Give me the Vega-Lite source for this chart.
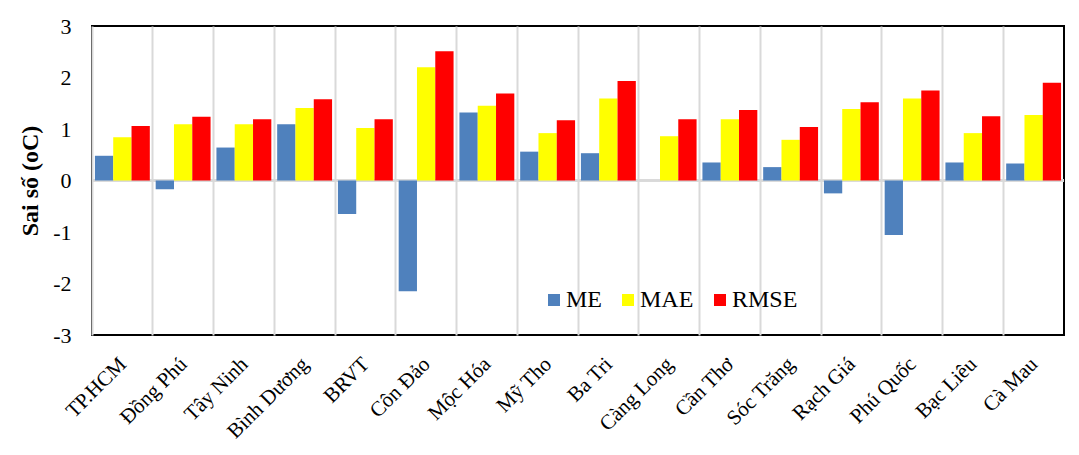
{
  "$schema": "https://vega.github.io/schema/vega-lite/v6.json",
  "autosize": {"type": "none"},
  "width": 972,
  "height": 309,
  "padding": {"left": 92, "top": 26, "right": 15, "bottom": 120},
  "background": "white",
  "config": {
    "font": "Liberation Serif",
    "view": {"stroke": "black", "strokeWidth": 2}
  },
  "data": {
    "values": [
      {"station": "TP.HCM", "metric": "ME", "value": 0.48},
      {"station": "TP.HCM", "metric": "MAE", "value": 0.84},
      {"station": "TP.HCM", "metric": "RMSE", "value": 1.06},
      {"station": "Đồng Phú", "metric": "ME", "value": -0.17},
      {"station": "Đồng Phú", "metric": "MAE", "value": 1.09},
      {"station": "Đồng Phú", "metric": "RMSE", "value": 1.24},
      {"station": "Tây Ninh", "metric": "ME", "value": 0.64},
      {"station": "Tây Ninh", "metric": "MAE", "value": 1.09},
      {"station": "Tây Ninh", "metric": "RMSE", "value": 1.19},
      {"station": "Bình Dương", "metric": "ME", "value": 1.09},
      {"station": "Bình Dương", "metric": "MAE", "value": 1.41},
      {"station": "Bình Dương", "metric": "RMSE", "value": 1.58},
      {"station": "BRVT", "metric": "ME", "value": -0.65},
      {"station": "BRVT", "metric": "MAE", "value": 1.02},
      {"station": "BRVT", "metric": "RMSE", "value": 1.19},
      {"station": "Côn Đảo", "metric": "ME", "value": -2.15},
      {"station": "Côn Đảo", "metric": "MAE", "value": 2.2},
      {"station": "Côn Đảo", "metric": "RMSE", "value": 2.51},
      {"station": "Mộc Hóa", "metric": "ME", "value": 1.32},
      {"station": "Mộc Hóa", "metric": "MAE", "value": 1.45},
      {"station": "Mộc Hóa", "metric": "RMSE", "value": 1.69},
      {"station": "Mỹ Tho", "metric": "ME", "value": 0.56},
      {"station": "Mỹ Tho", "metric": "MAE", "value": 0.92},
      {"station": "Mỹ Tho", "metric": "RMSE", "value": 1.17},
      {"station": "Ba Tri", "metric": "ME", "value": 0.53},
      {"station": "Ba Tri", "metric": "MAE", "value": 1.59},
      {"station": "Ba Tri", "metric": "RMSE", "value": 1.93},
      {"station": "Càng Long", "metric": "ME", "value": 0.0},
      {"station": "Càng Long", "metric": "MAE", "value": 0.86},
      {"station": "Càng Long", "metric": "RMSE", "value": 1.19},
      {"station": "Cần Thơ", "metric": "ME", "value": 0.35},
      {"station": "Cần Thơ", "metric": "MAE", "value": 1.19},
      {"station": "Cần Thơ", "metric": "RMSE", "value": 1.37},
      {"station": "Sóc Trăng", "metric": "ME", "value": 0.26},
      {"station": "Sóc Trăng", "metric": "MAE", "value": 0.79},
      {"station": "Sóc Trăng", "metric": "RMSE", "value": 1.04},
      {"station": "Rạch Giá", "metric": "ME", "value": -0.25},
      {"station": "Rạch Giá", "metric": "MAE", "value": 1.39},
      {"station": "Rạch Giá", "metric": "RMSE", "value": 1.52},
      {"station": "Phú Quốc", "metric": "ME", "value": -1.06},
      {"station": "Phú Quốc", "metric": "MAE", "value": 1.59},
      {"station": "Phú Quốc", "metric": "RMSE", "value": 1.75},
      {"station": "Bạc Liêu", "metric": "ME", "value": 0.35},
      {"station": "Bạc Liêu", "metric": "MAE", "value": 0.92},
      {"station": "Bạc Liêu", "metric": "RMSE", "value": 1.25},
      {"station": "Cà Mau", "metric": "ME", "value": 0.33},
      {"station": "Cà Mau", "metric": "MAE", "value": 1.27},
      {"station": "Cà Mau", "metric": "RMSE", "value": 1.9}
    ]
  },
  "layer": [
    {
      "mark": {"type": "rule", "color": "#d9d9d9", "strokeWidth": 2},
      "encoding": {"y": {"datum": 0, "type": "quantitative", "scale": {"domain": [-3, 3]}}}
    },
    {
      "mark": {"type": "bar"},
      "encoding": {
        "x": {
          "field": "station",
          "type": "nominal",
          "sort": null,
          "scale": {"paddingInner": 0, "paddingOuter": 0},
          "axis": {
            "title": null,
            "labelAngle": -45,
            "labelFontSize": 21,
            "labelColor": "black",
            "labelPadding": 18,
            "labelOffset": -7,
            "ticks": false,
            "domain": false,
            "grid": true,
            "bandPosition": 0,
            "gridColor": "#d9d9d9",
            "gridWidth": 2,
            "gridOpacity": 1
          }
        },
        "xOffset": {
          "field": "metric",
          "type": "nominal",
          "sort": ["ME", "MAE", "RMSE"],
          "scale": {"paddingInner": 0, "paddingOuter": 0.16}
        },
        "y": {
          "field": "value",
          "type": "quantitative",
          "scale": {"domain": [-3, 3], "nice": false},
          "axis": {
            "title": "Sai số (oC)",
            "titleFontSize": 24,
            "titleFontWeight": "bold",
            "titleColor": "black",
            "titleAngle": -90,
            "titleAlign": "center",
            "titleBaseline": "middle",
            "titleX": -62,
            "titleY": 154.5,
            "values": [-3, -2, -1, 0, 1, 2, 3],
            "labelExpr": "toString(datum.value)",
            "labelFontSize": 22,
            "labelColor": "black",
            "labelPadding": 21,
            "ticks": false,
            "domain": false,
            "grid": false
          }
        },
        "color": {
          "field": "metric",
          "type": "nominal",
          "sort": ["ME", "MAE", "RMSE"],
          "scale": {"domain": ["ME", "MAE", "RMSE"], "range": ["#4f81bd", "#ffff00", "#ff0000"]},
          "legend": {
            "title": null,
            "orient": "none",
            "legendX": 450,
            "legendY": 262,
            "direction": "horizontal",
            "symbolType": "square",
            "symbolSize": 144,
            "symbolStrokeWidth": 0,
            "labelFontSize": 24,
            "labelColor": "black",
            "labelOffset": 0,
            "columnPadding": 14,
            "padding": 0
          }
        }
      }
    }
  ]
}
